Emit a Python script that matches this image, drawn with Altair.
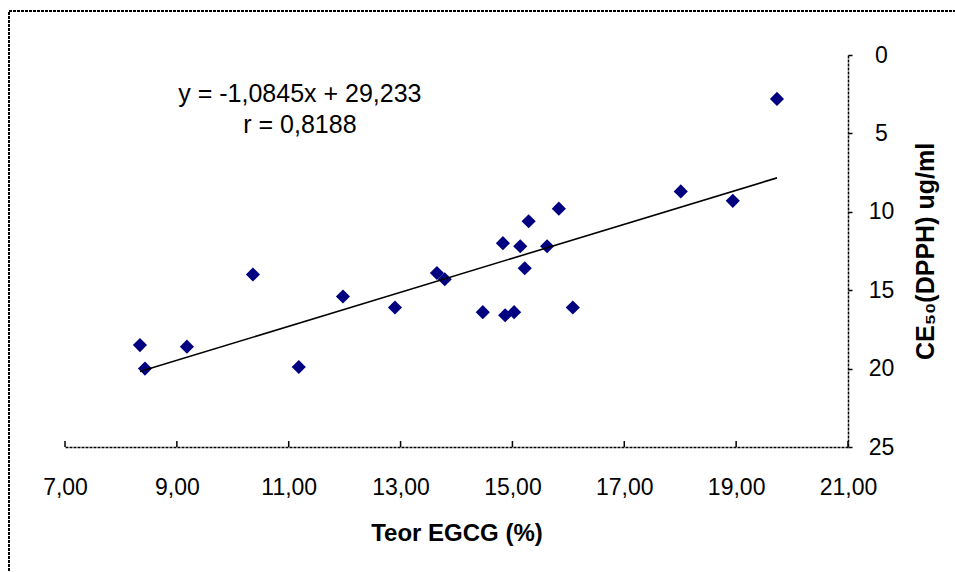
import altair as alt
import pandas as pd

# ---- data ----
teor_egcg = [8.34, 8.43, 9.18, 10.36, 11.18, 11.97, 12.90, 13.65, 13.79, 14.47, 14.83,
             14.87, 15.03, 15.14, 15.22, 15.29, 15.62, 15.83, 16.08, 18.01, 18.94, 19.73]
ce50 = [18.5, 20.0, 18.6, 14.0, 19.9, 15.4, 16.1, 13.9, 14.3, 16.4, 12.0,
        16.6, 16.4, 12.2, 13.6, 10.6, 12.2, 9.8, 16.1, 8.7, 9.3, 2.8]
slope = -1.0845
intercept = 29.233
eq_lines = ["y = -1,0845x + 29,233", "r = 0,8188"]
x_ticks = [7, 9, 11, 13, 15, 17, 19, 21]
y_ticks = [0, 5, 10, 15, 20, 25]

FONT = "Liberation Sans"
W, H = 783, 392

pts = pd.DataFrame({"x": teor_egcg, "y": ce50})
x_lo, x_hi = min(teor_egcg), max(teor_egcg)
trend = pd.DataFrame({"x": [x_lo, x_hi], "y": [slope * x_lo + intercept, slope * x_hi + intercept]})
ann = pd.DataFrame({"t": eq_lines, "x": [11.2, 11.2], "y": [3.0, 4.97]})
ticks_df = pd.DataFrame({"x": x_ticks})

xscale = alt.Scale(domain=[7, 21], nice=False, zero=False)
yscale = alt.Scale(domain=[0, 25], nice=False, reverse=True)

x_axis = alt.Axis(
    values=x_ticks, orient="bottom", title="Teor EGCG (%)", grid=False, ticks=False, tickSize=0,
    labelExpr="replace(format(datum.value, '.2f'), '.', ',')",
    labelFlush=False, labelOverlap=False,
    labelFont=FONT, labelFontSize=23, labelColor="black", labelPadding=29,
    titleFont=FONT, titleFontSize=24, titleFontWeight="bold", titleColor="black", titlePadding=22,
    domainColor="black", domainWidth=1.5, domainDash=[3, 1],
)
y_axis = alt.Axis(
    values=y_ticks, orient="right", title="CE₅₀(DPPH) ug/ml", grid=False,
    tickSize=4, tickColor="black", tickWidth=1.5,
    labelFlush=False, labelOverlap=False,
    labelFont=FONT, labelFontSize=23, labelColor="black", labelAlign="center", labelPadding=29,
    titleFont=FONT, titleFontSize=25, titleFontWeight="bold", titleColor="black",
    titleAngle=270, titleX=77, titleY=H / 2, titleAlign="center", titleBaseline="middle",
    domainColor="black", domainWidth=1.5, domainDash=[3, 1],
)

border = alt.Chart(pd.DataFrame({"a": [0]})).mark_rect(
    fill=None, stroke="black", strokeWidth=2, strokeDash=[3, 1]
).encode(
    x=alt.value(-56), x2=alt.value(930), y=alt.value(-44), y2=alt.value(560)
)

points = alt.Chart(pts).mark_point(
    shape="diamond", filled=True, color="#000080", size=200, opacity=1
).encode(
    x=alt.X("x:Q", scale=xscale, axis=x_axis),
    y=alt.Y("y:Q", scale=yscale, axis=y_axis),
)

line = alt.Chart(trend).mark_line(color="black", strokeWidth=1.6).encode(
    x=alt.X("x:Q", scale=xscale, axis=x_axis),
    y=alt.Y("y:Q", scale=yscale, axis=y_axis),
)

text = alt.Chart(ann).mark_text(
    font=FONT, fontSize=25, color="black", align="center", baseline="alphabetic"
).encode(
    x=alt.X("x:Q", scale=xscale, axis=x_axis),
    y=alt.Y("y:Q", scale=yscale, axis=y_axis),
    text="t:N",
)

# inward (upward) tick marks on the x axis, placed through the x scale
xticks = alt.Chart(ticks_df).mark_rule(color="black", strokeWidth=1.5).encode(
    x=alt.X("x:Q", scale=xscale, axis=x_axis),
    y=alt.value(H - 6),
    y2=alt.value(H),
)

chart = alt.layer(border, points, line, text, xticks).properties(
    width=W, height=H,
    autosize=alt.AutoSizeParams(type="none"),
    padding={"left": 65, "top": 55, "right": 107, "bottom": 125},
    background="white",
).configure_view(strokeWidth=0)

chart.save("out.html", embed_options={"renderer": "svg", "actions": False})
